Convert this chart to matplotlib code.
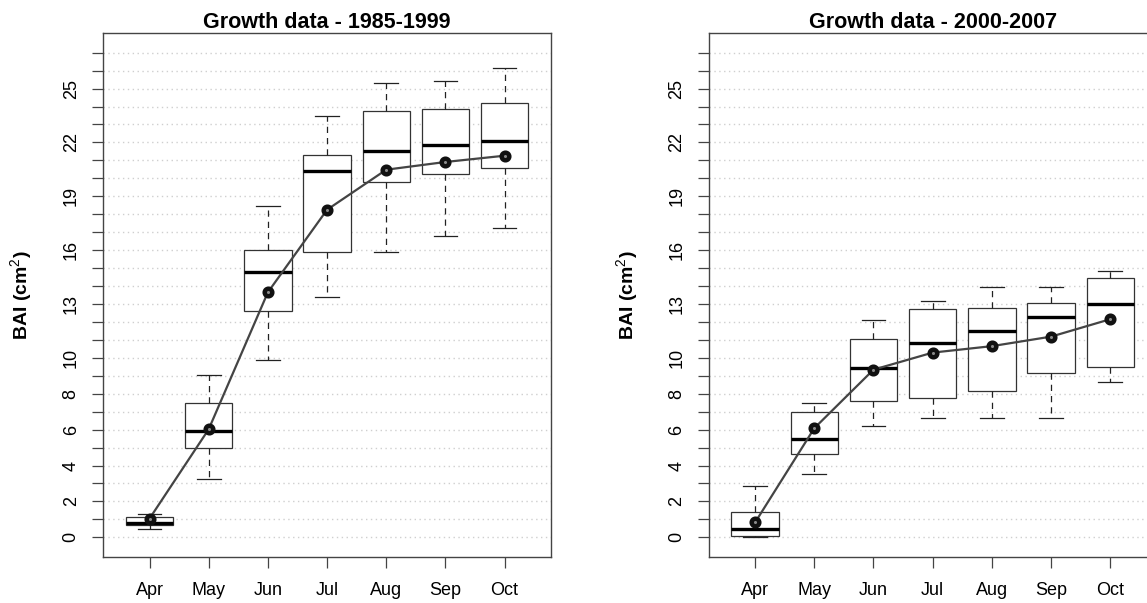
import matplotlib
matplotlib.use("Agg")
import matplotlib.pyplot as plt

plt.rcParams['font.family'] = ['Liberation Sans', 'DejaVu Sans']
plt.rcParams['mathtext.fontset'] = 'custom'
plt.rcParams['mathtext.rm'] = 'Liberation Sans'
plt.rcParams['mathtext.bf'] = 'Liberation Sans:bold'

months = ['Apr', 'May', 'Jun', 'Jul', 'Aug', 'Sep', 'Oct']

# 1985-1999
p1_whislo = [0.47, 3.26, 9.88, 13.41, 15.90, 16.77, 17.23]
p1_q1 = [0.68, 4.97, 12.63, 15.88, 19.79, 20.24, 20.57]
p1_med = [0.80, 5.91, 14.77, 20.39, 21.50, 21.84, 22.09]
p1_q3 = [1.14, 7.51, 16.01, 21.31, 23.73, 23.84, 24.19]
p1_whishi = [1.29, 9.07, 18.46, 23.49, 25.31, 25.43, 26.16]
p1_mean = [1.04, 6.02, 13.65, 18.25, 20.48, 20.91, 21.26]

# 2000-2007
p2_whislo = [0.00, 3.50, 6.21, 6.65, 6.65, 6.65, 8.64]
p2_q1 = [0.07, 4.63, 7.58, 7.75, 8.14, 9.14, 9.51]
p2_med = [0.46, 5.47, 9.46, 10.85, 11.48, 12.27, 13.00]
p2_q3 = [1.40, 6.99, 11.07, 12.70, 12.80, 13.08, 14.42]
p2_whishi = [2.87, 7.49, 12.09, 13.17, 13.96, 13.96, 14.85]
p2_mean = [0.83, 6.08, 9.34, 10.29, 10.65, 11.18, 12.15]

y_labeled = [0, 2, 4, 6, 8, 10, 13, 16, 19, 22, 25]
y_ticks = list(range(28))

panels = [
    ('Growth data - 1985-1999', p1_whislo, p1_q1, p1_med, p1_q3, p1_whishi, p1_mean),
    ('Growth data - 2000-2007', p2_whislo, p2_q1, p2_med, p2_q3, p2_whishi, p2_mean),
]

fig = plt.figure(figsize=(11.47, 6.03), dpi=100)
lefts = [0.0901, 0.6181]
frame_col = '#444444'

for left, (title, wlo, q1, med, q3, whi, mean) in zip(lefts, panels):
    ax = fig.add_axes([left, 0.0768, 0.3901, 0.8680])
    pos = list(range(1, len(months) + 1))
    stats = []
    for i in range(len(months)):
        stats.append(dict(whislo=wlo[i], q1=q1[i], med=med[i], q3=q3[i],
                          whishi=whi[i], fliers=[], label=months[i]))
    ax.bxp(stats, positions=pos, widths=0.8, capwidths=0.4, patch_artist=True,
           boxprops=dict(facecolor='white', edgecolor='#333333', linewidth=0.9),
           medianprops=dict(color='black', linewidth=2.4, solid_capstyle='butt'),
           whiskerprops=dict(color='#222222', linewidth=0.9, linestyle=(0, (5, 4))),
           capprops=dict(color='#222222', linewidth=0.9),
           zorder=2)
    ax.plot(pos, mean, color='#444444', lw=1.6, marker='o', ms=5.5,
            mfc='#8a8a8a', mec='#111111', mew=3.2, zorder=4)

    ax.set_xlim(0.22, 7.78)
    ax.set_ylim(-1.08, 28.08)
    ax.set_xticks(pos)
    ax.set_xticklabels(months)
    ax.set_yticks(y_ticks)
    ax.set_yticklabels([str(v) if v in y_labeled else '' for v in y_ticks],
                       rotation=90, va='center')
    ax.set_axisbelow(True)
    ax.grid(axis='y', color='#cfcfcf', linestyle=(0, (1, 2.5)), linewidth=1.0)
    ax.tick_params(axis='both', length=8, width=0.9, color=frame_col,
                   labelsize=13, pad=9)
    ax.tick_params(axis='x', pad=10)
    for s in ax.spines.values():
        s.set_color(frame_col)
        s.set_linewidth(1.0)
    ax.set_title(title, fontsize=15.5, fontweight='bold', pad=2)
    ax.text(-0.182, 0.5, r'BAI (cm$^{2}$)', transform=ax.transAxes, rotation=90,
            ha='center', va='center', fontsize=14, fontweight='bold')

fig.savefig('out.png', dpi=100)
